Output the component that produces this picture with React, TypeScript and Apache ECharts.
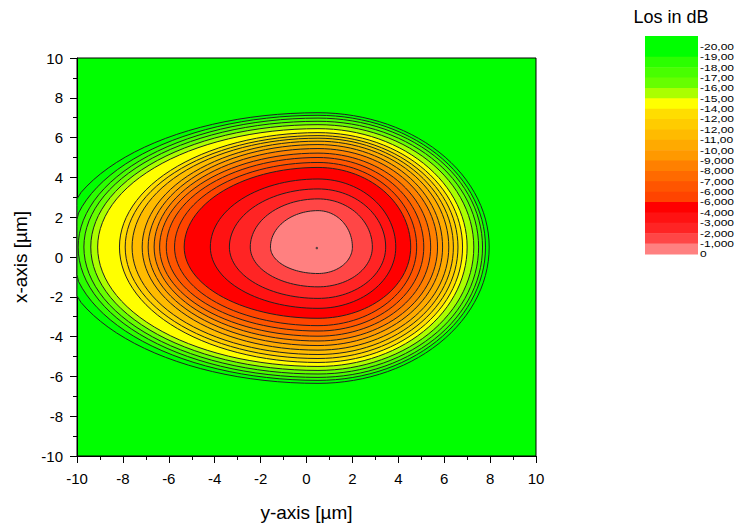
import { useEffect, useRef } from "react";
import * as echarts from "echarts";

// Contour levels (dB), outermost first
const levels = [-20, -19, -18, -17, -16, -15, -14, -13, -12, -11, -10, -9, -8, -7, -6, -5, -4, -3, -2, -1];
// Extents of each contour line (µm)
const leftX = [-10.8, -10.3, -9.95, -9.7, -9.4, -9.1, -8.15, -7.9, -7.6, -7.16, -6.9, -6.64, -6.4, -6.11, -5.75, -5.33, -4.19, -3.36, -2.45, -1.57];
const rightX = [7.96, 7.8, 7.67, 7.5, 7.29, 7.0, 6.8, 6.6, 6.4, 6.2, 5.93, 5.71, 5.41, 5.11, 4.8, 4.54, 3.89, 3.45, 2.87, 2.0];
const topY = [7.25, 7.12, 6.98, 6.82, 6.65, 6.45, 6.25, 6.1, 5.97, 5.82, 5.65, 5.45, 5.22, 5.0, 4.75, 4.5, 3.92, 3.42, 2.92, 2.33];
const bottomY = [-6.35, -6.2, -6.05, -5.88, -5.7, -5.5, -5.3, -5.1, -4.9, -4.68, -4.45, -4.22, -3.98, -3.72, -3.45, -3.08, -2.58, -2.08, -1.5, -0.83];
const centerX = [0.5];
const centerY = [0.5];
const peakPoint = [[0.45, 0.45]];

// Band colours, lowest (< -20) first, up to (-1 .. 0)
const bandColors = [
  "#00ff00", "#00ff00", "#2bff00", "#48ff00", "#66ff00", "#aaff00", "#ffff00", "#ffdd00",
  "#ffcc00", "#ffbb00", "#ffaa00", "#ff9900", "#ff8000", "#ff6a00", "#ff5500", "#ff4400",
  "#ff0000", "#ff1212", "#ff2424", "#ff4646", "#ff8080",
];
const legendLabels = [
  "-20,00", "-19,00", "-18,00", "-17,00", "-16,00", "-15,00", "-14,00", "-12,00", "-12,00", "-11,00",
  "-10,00", "-9,000", "-8,000", "-7,000", "-6,000", "-6,000", "-4,000", "-3,000", "-2,000", "-1,000", "0",
];
const axisMin = -10;
const axisMax = 10;
const axisStep = 2;

const FONT = "'Liberation Sans', Arial, sans-serif";

export default function App() {
  const ref = useRef<HTMLDivElement>(null);
  useEffect(() => {
    if (!ref.current) return;
    const chart = echarts.init(ref.current, null, { renderer: "svg" });
    const cx = centerX[0];
    const cy = centerY[0];
    const clamp = (v: number) => Math.max(axisMin, Math.min(axisMax, v));

    const legendTop = 36;
    const legendBottom = 254;
    const bandH = (legendBottom - legendTop) / bandColors.length;
    const legendEls: any[] = [];
    bandColors.forEach((c, k) => {
      legendEls.push({
        type: "rect",
        shape: { x: 645, y: legendTop + k * bandH, width: 53, height: bandH + 0.6 },
        style: { fill: c },
        silent: true,
      });
    });
    legendLabels.forEach((t, k) => {
      legendEls.push({
        type: "text",
        x: 700,
        y: legendTop + (k + 1) * bandH,
        scaleY: 0.74,
        style: { text: t, fill: "#000", font: `12px ${FONT}`, verticalAlign: "middle", align: "left" },
      });
    });
    legendEls.push({
      type: "text",
      x: 671,
      y: 17,
      style: { text: "Los in dB", fill: "#000", font: `18px ${FONT}`, verticalAlign: "middle", align: "center" },
    });

    const axisCommon = {
      type: "value",
      min: axisMin,
      max: axisMax,
      interval: axisStep,
      nameLocation: "middle",
      nameTextStyle: { color: "#000", fontSize: 19, fontFamily: FONT },
      axisLine: { show: true, onZero: false, lineStyle: { color: "#000", width: 1 } },
      axisTick: { show: true, inside: false, length: 7, lineStyle: { color: "#000", width: 1 } },
      minorTick: { show: true, splitNumber: 2, length: 4, lineStyle: { color: "#000", width: 1 } },
      splitLine: { show: false },
      minorSplitLine: { show: false },
    };

    chart.setOption({
      animation: false,
      backgroundColor: "#fff",
      grid: {
        left: 77,
        top: 58,
        width: 459,
        height: 400,
        show: true,
        backgroundColor: "#00ff00",
        borderColor: "#000",
        borderWidth: 1,
      },
      xAxis: {
        ...axisCommon,
        name: "y-axis [µm]",
        nameGap: 47,
        axisLabel: { color: "#000", fontSize: 15, fontFamily: FONT, margin: 15 },
      },
      yAxis: {
        ...axisCommon,
        name: "x-axis [µm]",
        nameGap: 47,
        axisLabel: { color: "#000", fontSize: 15, fontFamily: FONT, margin: 14 },
      },
      graphic: legendEls,
      series: [
        {
          type: "custom",
          coordinateSystem: "cartesian2d",
          encode: { x: [1, 2], y: [3, 4] },
          data: levels.map((l, i) => [l, leftX[i], rightX[i], topY[i], bottomY[i]]),
          renderItem: (params: any, api: any) => {
            const i = params.dataIndex;
            const L = api.value(1);
            const R = api.value(2);
            const T = api.value(3);
            const B = api.value(4);
            const pts: number[][] = [];
            const n = 120;
            for (let k = 0; k < n; k++) {
              const t = (k / n) * Math.PI * 2;
              const c = Math.cos(t);
              const s = Math.sin(t);
              const x = cx + (c >= 0 ? R - cx : cx - L) * c;
              const y = cy + (s >= 0 ? T - cy : cy - B) * s;
              pts.push(api.coord([clamp(x), clamp(y)]));
            }
            return {
              type: "polygon",
              shape: { points: pts },
              style: { fill: bandColors[i + 1], stroke: "#222", lineWidth: 1 },
            };
          },
          z: 2,
        },
        {
          type: "scatter",
          data: peakPoint,
          symbolSize: 2.5,
          itemStyle: { color: "#333" },
          z: 3,
        },
      ],
    });
    return () => chart.dispose();
  }, []);
  return <div ref={ref} style={{ position: "absolute", left: 0, top: 0, width: 737, height: 527 }} />;
}
